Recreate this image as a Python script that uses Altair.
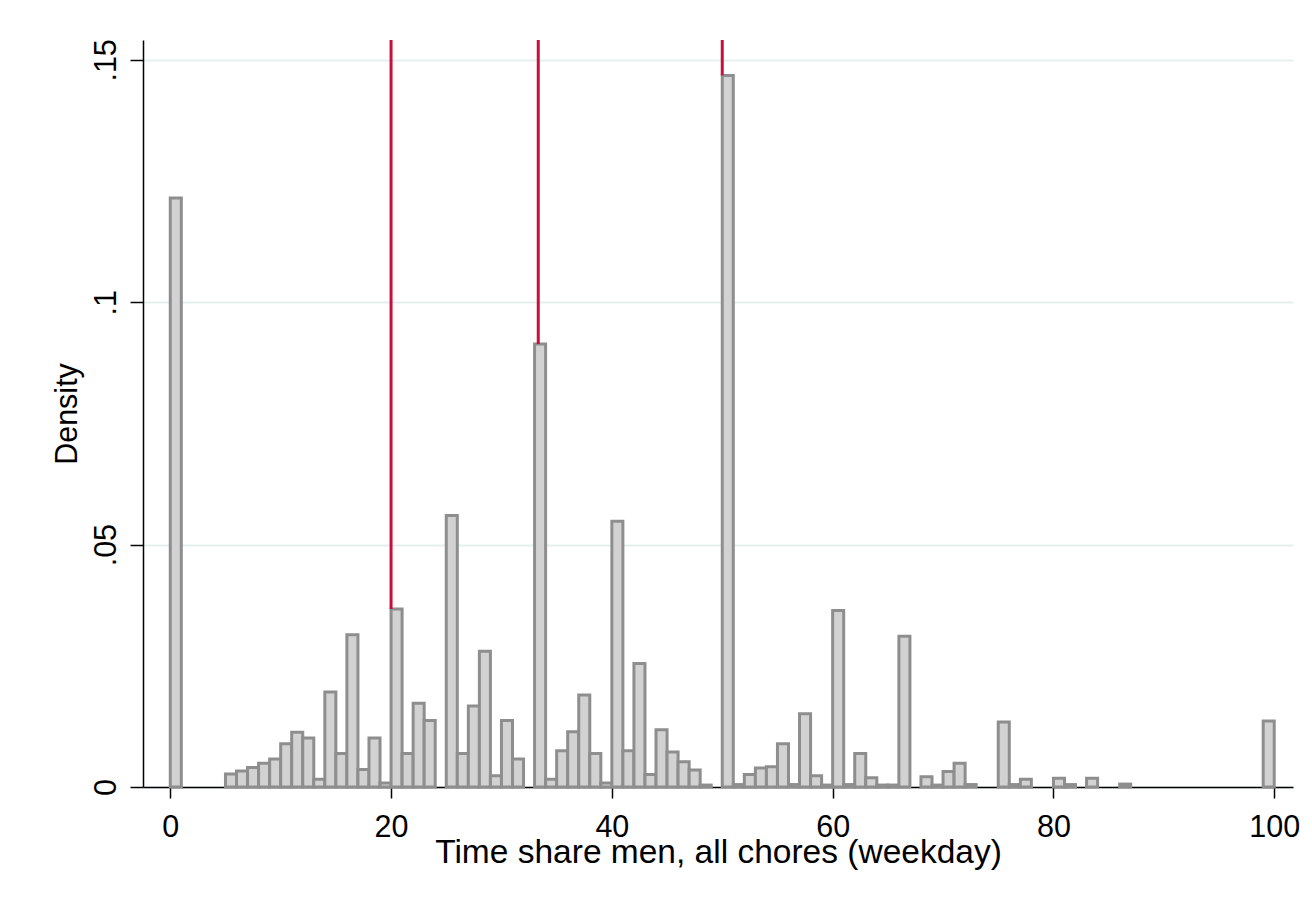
import altair as alt
import pandas as pd

# Histogram bins (width 1) and their densities
bin_start = list(range(100))
density = [
    0.1215, 0, 0, 0, 0, 0.0027, 0.0033, 0.0040, 0.0049, 0.0058,
    0.0089, 0.0113, 0.0101, 0.0016, 0.0196, 0.0069, 0.0314, 0.0036, 0.0101, 0.0008,
    0.0367, 0.0069, 0.0173, 0.0137, 0, 0.0560, 0.0069, 0.0167, 0.0280, 0.0023,
    0.0137, 0.0058, 0, 0.0914, 0.0016, 0.0075, 0.0114, 0.0190, 0.0069, 0.0008,
    0.0548, 0.0075, 0.0255, 0.0026, 0.0118, 0.0072, 0.0052, 0.0035, 0.0004, 0,
    0.1468, 0.0005, 0.0026, 0.0039, 0.0042, 0.0089, 0.0005, 0.0151, 0.0023, 0.0004,
    0.0364, 0.0005, 0.0069, 0.0019, 0.0004, 0.0004, 0.0311, 0, 0.0021, 0.0004,
    0.0032, 0.0049, 0.0005, 0, 0, 0.0134, 0.0005, 0.0016, 0, 0,
    0.0018, 0.0005, 0, 0.0018, 0, 0, 0.0006, 0, 0, 0,
    0, 0, 0, 0, 0, 0, 0, 0, 0, 0.0136,
]

# Reference lines (x position, height of bar they end at)
ref_x = [20, 100 / 3, 50]
ref_top = [0.0367, 0.0914, 0.1468]

x_ticks = [0, 20, 40, 60, 80, 100]
y_ticks = [0, 0.05, 0.1, 0.15]
X_DOMAIN = [-2.47, 101.7]
Y_DOMAIN = [0, 0.1541]

hist = pd.DataFrame({"start": bin_start, "density": density})
hist = hist[hist["density"] > 0].copy()
hist["end"] = hist["start"] + 1

lines = pd.DataFrame({"x": ref_x, "top": ref_top})

FONT = "Liberation Sans"

x_scale = alt.Scale(domain=X_DOMAIN, nice=False, zero=False)
y_scale = alt.Scale(domain=Y_DOMAIN, nice=False)

bars = alt.Chart(hist).mark_rect(
    fill="#D2D2D2", stroke="#8E8E8E", strokeWidth=3
).encode(
    x=alt.X(
        "start:Q",
        scale=x_scale,
        axis=alt.Axis(
            values=x_ticks,
            title="Time share men, all chores (weekday)",
            grid=False,
            domainColor="#000000",
            domainWidth=1.5,
            tickColor="#000000",
            tickWidth=1.5,
            tickSize=11,
            labelFontSize=30.5,
            labelFont=FONT,
            labelColor="#000000",
            labelBaseline="alphabetic",
            labelPadding=38,
            labelFlush=False,
            titleFont=FONT,
            titleFontSize=33.5,
            titleFontWeight="normal",
            titleColor="#000000",
            titleBaseline="alphabetic",
            titleAnchor="middle",
            titleY=75,
        ),
    ),
    x2="end:Q",
    y=alt.Y(
        "density:Q",
        scale=y_scale,
        axis=alt.Axis(
            values=y_ticks,
            title="Density",
            grid=True,
            gridColor="#E6EFF0",
            gridWidth=2,
            domainColor="#000000",
            domainWidth=1.5,
            tickColor="#000000",
            tickWidth=1.5,
            tickSize=13,
            labelAngle=270,
            labelAlign="center",
            labelBaseline="alphabetic",
            labelPadding=15,
            labelFontSize=30.5,
            labelFont=FONT,
            labelColor="#000000",
            labelFlush=False,
            labelExpr="datum.value == 0 ? '0' : slice(format(datum.value, '.2~f'), 1)",
            titleFont=FONT,
            titleFontSize=30.5,
            titleFontWeight="normal",
            titleColor="#000000",
            titleAngle=270,
            titleBaseline="alphabetic",
            titleAlign="center",
            titleX=-67,
            titleY=373.5,
        ),
    ),
    y2=alt.datum(0),
)

rules = alt.Chart(lines).mark_rule(color="#C8103C", strokeWidth=3).encode(
    x=alt.X("x:Q", scale=x_scale),
    y=alt.Y("top:Q", scale=y_scale),
    y2=alt.value(0),
)

border = alt.Chart(pd.DataFrame({"a": [0]})).mark_rule(
    color="#DCE6E8", strokeWidth=2
).encode(
    x=alt.value(-130), x2=alt.value(1161), y=alt.value(-33)
)

chart = alt.layer(bars, rules, border).properties(
    width=1150,
    height=747,
    autosize=alt.AutoSizeParams(type="none"),
    padding={"left": 135, "top": 32, "right": 11, "bottom": 100},
    background="#FFFFFF",
).configure_view(strokeWidth=0)

chart.save("out.html", embed_options={"renderer": "svg", "actions": False})
